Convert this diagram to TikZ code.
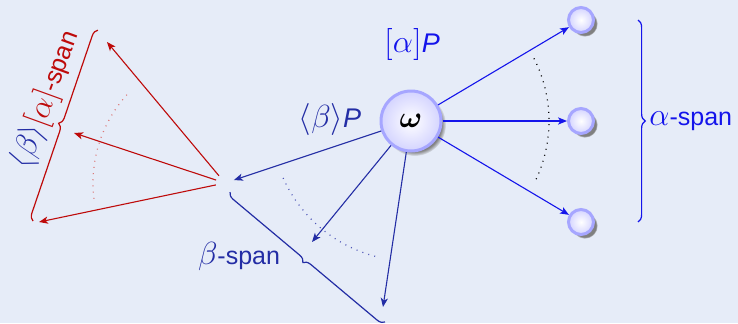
\RequirePackage{fix-cm}
\documentclass[tikz,border=0pt]{standalone}
\usepackage{amsmath}
\usepackage{fontspec}
\setsansfont{Liberation Sans}
\usetikzlibrary{arrows.meta,decorations.pathreplacing,shadows}
\definecolor{bgc}{RGB}{230,236,248}
\definecolor{ablue}{RGB}{20,20,235}
\definecolor{bblue}{RGB}{35,45,165}
\definecolor{rred}{RGB}{190,10,10}
\newcommand\mth[1]{{\fontsize{16}{18}\selectfont$#1$}}
\newcommand\itP{{\fontsize{13.5}{16}\selectfont\textit{P}}}
\tikzset{
  ball/.style={circle, draw=blue!35, line width=1.5pt, inner color=white, outer color=blue!17,
    inner sep=0pt, circular drop shadow={shadow xshift=1.8pt, shadow yshift=-1.8pt, shadow scale=1.04}},
  bigball/.style={ball, minimum size=30pt},
  smallball/.style={ball, minimum size=12.5pt},
  tip/.style={-{Stealth[length=4.5pt,width=3.6pt,inset=1.2pt]}},
  aarrow/.style={draw=ablue, line width=0.55pt, tip},
  barrow/.style={draw=bblue, line width=0.55pt, tip},
  rarrow/.style={draw=rred, line width=0.55pt, tip},
  bracestyle/.style={decorate, decoration={brace, amplitude=3.6pt}, line width=0.6pt},
  dotarc/.style={line width=0.6pt, dash pattern=on 0.5pt off 2.6pt},
  lbl/.style={font=\sffamily\fontsize{12.5}{14}\selectfont, inner sep=0pt}
}
\begin{document}
\begin{tikzpicture}[x=0.5pt,y=-0.5pt]
\fill[bgc] (0,0) rectangle (738,323);
\useasboundingbox (0,0) rectangle (738,323);

% nodes
\node[bigball] (w) at (411,121) {\fontsize{15}{17}\selectfont$\boldsymbol{\omega}$};
\node[smallball] (a1) at (581,20) {};
\node[smallball] (a2) at (581,121) {};
\node[smallball] (a3) at (581,222) {};
\node[circle, minimum size=9pt, inner sep=0pt] (v) at (225,183) {};
\coordinate (b2) at (312,242);
\coordinate (b3) at (383,307);
\coordinate (r1) at (107,42);
\coordinate (r2) at (74,133);
\coordinate (r3) at (39,222);

% alpha arrows
\draw[aarrow] (w) -- (a1);
\draw[aarrow] (w) -- (a2);
\draw[aarrow] (w) -- (a3);
\draw[dotarc, black] (w.center) ++(-27:138) arc[start angle=-27, end angle=25, radius=138];

% beta arrows
\draw[barrow] (w) -- (v);
\draw[barrow] (w) -- (b2);
\draw[barrow] (w) -- (b3);
\draw[dotarc, bblue!80] (w.center) ++(156:140) arc[start angle=156, end angle=103, radius=140];

% red arrows
\draw[rarrow] (v) -- (r1);
\draw[rarrow] (v) -- (r2);
\draw[rarrow] (v) -- (r3);
\draw[dotarc, rred!55] (v.center) ++(222:132) arc[start angle=222, end angle=172, radius=132];

% braces
\draw[bracestyle, ablue] (638,20) -- (638,222);
\draw[bracestyle, bblue] (385,322) -- (230,192);
\draw[bracestyle, rred] (33,221) -- (98,30);

% labels
\node[lbl, ablue, anchor=west] (alab) at (649,121) {\mth{\alpha}-span};
\node[lbl, ablue] (alp) at (412,44) {\mth{[\alpha]}\itP};
\node[lbl, bblue] (bep) at (330,119) {\mth{\langle\beta\rangle}\itP};
\node[lbl, bblue] (blab) at (239,256) {\mth{\beta}-span};
\node[lbl, rred, rotate=70] (rlab) at (46,100) {{\color{bblue}\mth{\langle\beta\rangle}}\mth{[\alpha]}-span};
\end{tikzpicture}
\end{document}
